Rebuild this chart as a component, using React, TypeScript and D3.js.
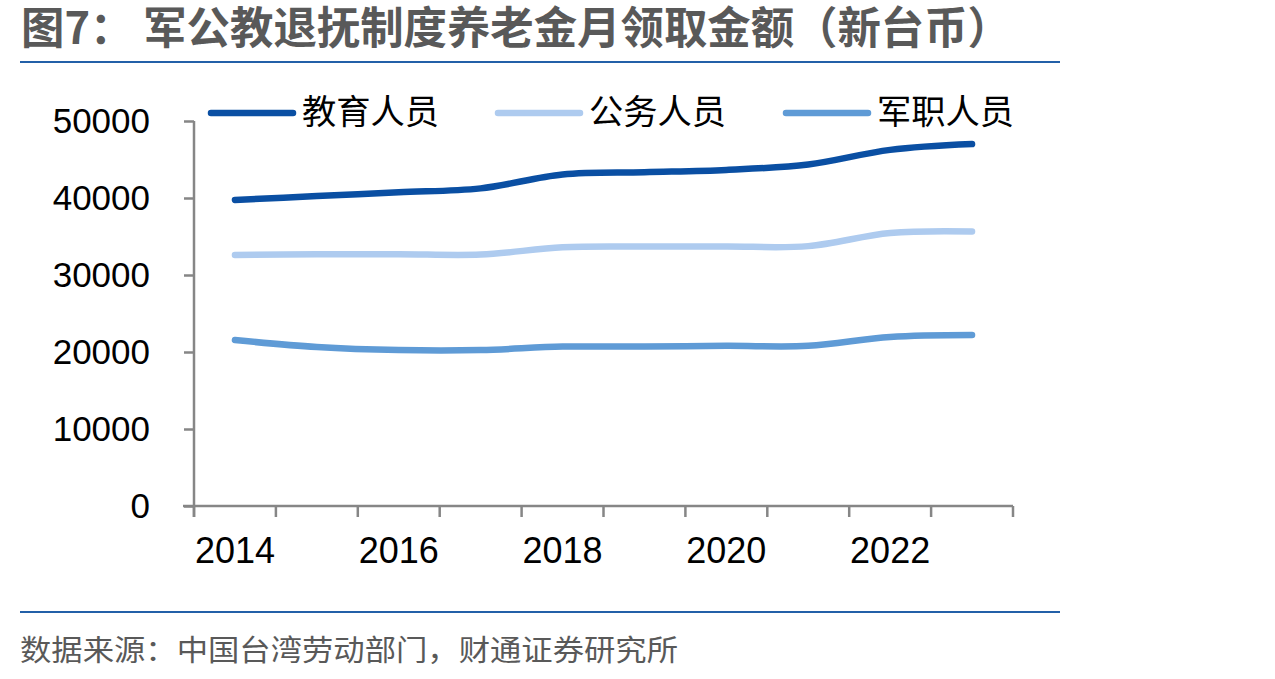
import React, { useEffect, useRef } from "react";
import * as d3 from "d3";

const years = ["2014", "2015", "2016", "2017", "2018", "2019", "2020", "2021", "2022", "2023"];
const tickYears = ["2014", "2016", "2018", "2020", "2022"];
const yTicks = [0, 10000, 20000, 30000, 40000, 50000];
const seriesNames = ["教育人员", "公务人员", "军职人员"];
const seriesColors = ["#0A4FA3", "#AECBEF", "#5F9BD6"];
const education = [39750, 40250, 40750, 41250, 43050, 43350, 43650, 44350, 46250, 47000];
const civil = [32600, 32700, 32700, 32650, 33600, 33700, 33700, 33750, 35450, 35650];
const military = [21550, 20650, 20250, 20250, 20700, 20700, 20800, 20800, 21950, 22200];
const seriesValues = [education, civil, military];
const titleText = "图7：   军公教退抚制度养老金月领取金额（新台币）";
const sourceText = "数据来源：中国台湾劳动部门，财通证券研究所";

export default function App() {
  const ref = useRef<SVGSVGElement | null>(null);

  useEffect(() => {
    const svg = d3.select(ref.current);
    svg.selectAll("*").remove();

    const left = 194, right = 1013, top = 121, bottom = 506;
    const x = d3.scaleBand<string>().domain(years).range([left, right]);
    const y = d3.scaleLinear().domain([0, 50000]).range([bottom, top]);
    const axisColor = "#868686";
    const numFont = "'Liberation Sans', Arial, sans-serif";
    const cjkFont = "'Noto Sans CJK SC', sans-serif";

    // title
    svg.append("text")
      .attr("x", 21).attr("y", 44)
      .attr("font-family", cjkFont).attr("font-weight", 700)
      .attr("font-size", 44).attr("fill", "#595959")
      .attr("textLength", 990).attr("lengthAdjust", "spacingAndGlyphs")
      .text(titleText);
    svg.append("line").attr("x1", 20).attr("x2", 1060).attr("y1", 62).attr("y2", 62)
      .attr("stroke", "#2360A8").attr("stroke-width", 2);
    svg.append("line").attr("x1", 20).attr("x2", 1060).attr("y1", 612).attr("y2", 612)
      .attr("stroke", "#2360A8").attr("stroke-width", 2);
    svg.append("text")
      .attr("x", 20).attr("y", 661)
      .attr("font-family", cjkFont)
      .attr("font-size", 29).attr("fill", "#595959")
      .attr("textLength", 658).attr("lengthAdjust", "spacingAndGlyphs")
      .text(sourceText);

    // y axis
    const yAxis = svg.append("g").attr("transform", `translate(${left},0)`)
      .call(d3.axisLeft(y).tickValues(yTicks).tickSize(10).tickSizeOuter(0).tickPadding(10).tickFormat(d3.format("d")));
    yAxis.select(".domain").attr("stroke", axisColor).attr("stroke-width", 2.5);
    yAxis.selectAll(".tick line").attr("stroke", axisColor).attr("stroke-width", 2.5);
    yAxis.selectAll(".tick text").attr("font-family", numFont).attr("font-size", 35).attr("fill", "#000").attr("x", -44);
    yAxis.select(".domain").attr("d", `M0,${top}V${bottom + 11}`);

    // x axis
    const xAxis = svg.append("g").attr("transform", `translate(0,${bottom})`);
    xAxis.append("line").attr("x1", left - 11).attr("x2", right).attr("y1", 0).attr("y2", 0)
      .attr("stroke", axisColor).attr("stroke-width", 2.5);
    const edges = years.map((yr) => x(yr) as number).concat([right]);
    xAxis.selectAll("line.tk").data(edges).enter().append("line").attr("class", "tk")
      .attr("x1", (d) => d).attr("x2", (d) => d).attr("y1", 0).attr("y2", 11)
      .attr("stroke", axisColor).attr("stroke-width", 2.5);
    xAxis.selectAll("text.lbl").data(tickYears).enter().append("text").attr("class", "lbl")
      .attr("x", (d) => (x(d) as number) + x.bandwidth() / 2)
      .attr("y", 57)
      .attr("text-anchor", "middle")
      .attr("font-family", numFont).attr("font-size", 36).attr("fill", "#000")
      .text((d) => d);

    // lines
    const line = d3.line<number>()
      .x((_, i) => (x(years[i]) as number) + x.bandwidth() / 2)
      .y((d) => y(d))
      .curve(d3.curveCardinal.tension(0));
    seriesValues.forEach((vals, i) => {
      svg.append("path").attr("d", line(vals) as string)
        .attr("fill", "none").attr("stroke", seriesColors[i])
        .attr("stroke-width", 6.5).attr("stroke-linecap", "round").attr("stroke-linejoin", "round");
    });

    // legend
    const legendX = [211, 498, 786];
    seriesNames.forEach((name, i) => {
      const g = svg.append("g");
      g.append("line").attr("x1", legendX[i]).attr("x2", legendX[i] + 82).attr("y1", 113).attr("y2", 113)
        .attr("stroke", seriesColors[i]).attr("stroke-width", 6.5).attr("stroke-linecap", "round");
      g.append("text").attr("x", legendX[i] + 91).attr("y", 124)
        .attr("font-family", cjkFont).attr("font-size", 34).attr("fill", "#000")
        .attr("textLength", 137).attr("lengthAdjust", "spacingAndGlyphs")
        .text(name);
    });
  }, []);

  return (
    <svg ref={ref} width={1275} height={679}
      style={{ position: "absolute", left: 0, top: 0, background: "#fff" }} />
  );
}
